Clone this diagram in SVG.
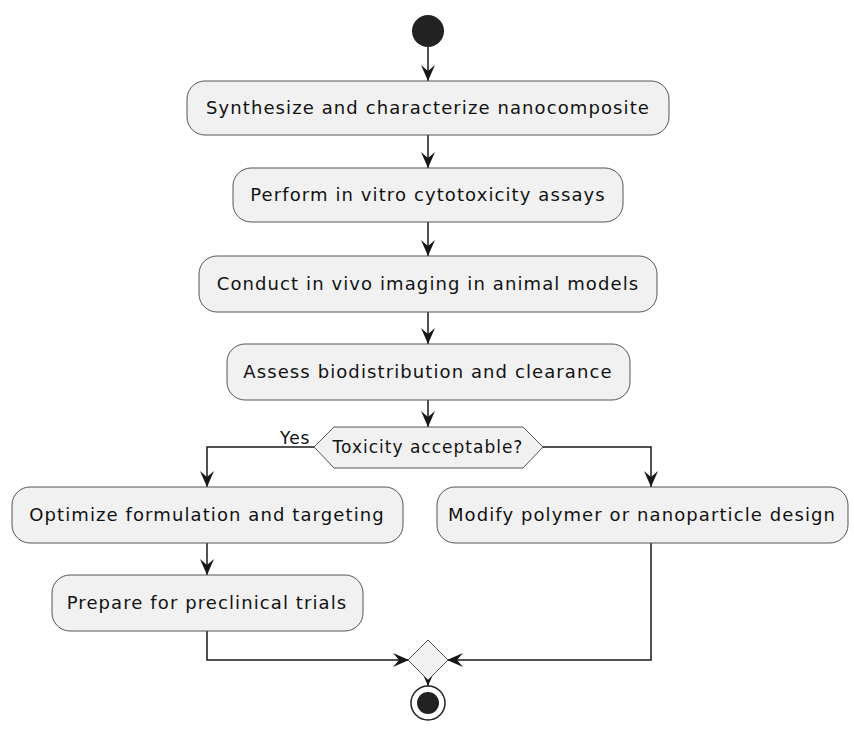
<svg xmlns="http://www.w3.org/2000/svg" width="854" height="744" viewBox="0 0 854 744">
<style>
.box{fill:#F1F1F1;stroke:#555;stroke-width:1}
.t{font-family:"DejaVu Sans",sans-serif;font-size:18px;letter-spacing:1.1px;fill:#111;text-anchor:middle}
.s{font-family:"DejaVu Sans",sans-serif;font-size:17px;letter-spacing:1px;fill:#111}
.e{fill:none;stroke:#181818;stroke-width:1.5}
</style>
<defs>
<marker id="ah" markerUnits="userSpaceOnUse" markerWidth="18" markerHeight="16" refX="16" refY="8" orient="auto">
<path d="M0,1 L16,8 L0,15 L6,8 Z" fill="#181818"/>
</marker>
</defs>
<rect width="854" height="744" fill="#fff"/>
<g id="connectors">
<path class="e" d="M428,47 V81" marker-end="url(#ah)"/>
<path class="e" d="M428,135 V168" marker-end="url(#ah)"/>
<path class="e" d="M428,222 V256" marker-end="url(#ah)"/>
<path class="e" d="M428,312 V344" marker-end="url(#ah)"/>
<path class="e" d="M428,400 V427" marker-end="url(#ah)"/>
<path class="e" d="M314,447 H207 V487" marker-end="url(#ah)"/>
<path class="e" d="M543,447 H651 V487" marker-end="url(#ah)"/>
<path class="e" d="M207,543 V575" marker-end="url(#ah)"/>
<path class="e" d="M207,631 V660 H409" marker-end="url(#ah)"/>
<path class="e" d="M651,543 V660 H447" marker-end="url(#ah)"/>
<path class="e" d="M428,680 V686" marker-end="url(#ah)"/>
<text class="s" x="280" y="444">Yes</text>
</g>
<g id="start"><circle cx="428" cy="31" r="16" fill="#222"/></g>
<g id="n1"><rect class="box" x="187" y="81" width="482" height="54" rx="18"/><text class="t" x="428" y="114">Synthesize and characterize nanocomposite</text></g>
<g id="n2"><rect class="box" x="233" y="168" width="390" height="54" rx="18"/><text class="t" x="428" y="201">Perform in vitro cytotoxicity assays</text></g>
<g id="n3"><rect class="box" x="199" y="256" width="458" height="56" rx="18"/><text class="t" x="428" y="290">Conduct in vivo imaging in animal models</text></g>
<g id="n4"><rect class="box" x="227" y="344" width="403" height="56" rx="18"/><text class="t" x="428" y="378">Assess biodistribution and clearance</text></g>
<g id="decision"><polygon class="box" points="314,447 334,427 523,427 543,447 523,468 334,468"/><text class="t" x="428" y="453" style="font-size:17px;letter-spacing:1px">Toxicity acceptable?</text></g>
<g id="n5"><rect class="box" x="12" y="487" width="391" height="56" rx="18"/><text class="t" x="207" y="521">Optimize formulation and targeting</text></g>
<g id="n6"><rect class="box" x="437" y="487" width="411" height="56" rx="18"/><text class="t" x="642" y="521">Modify polymer or nanoparticle design</text></g>
<g id="n7"><rect class="box" x="52" y="575" width="311" height="56" rx="18"/><text class="t" x="207" y="609">Prepare for preclinical trials</text></g>
<g id="merge"><polygon class="box" points="428,640 448,660 428,680 408,660"/></g>
<g id="end"><circle cx="428" cy="703" r="17" fill="none" stroke="#222" stroke-width="1.5"/><circle cx="428" cy="703" r="11" fill="#222"/></g>
</svg>
